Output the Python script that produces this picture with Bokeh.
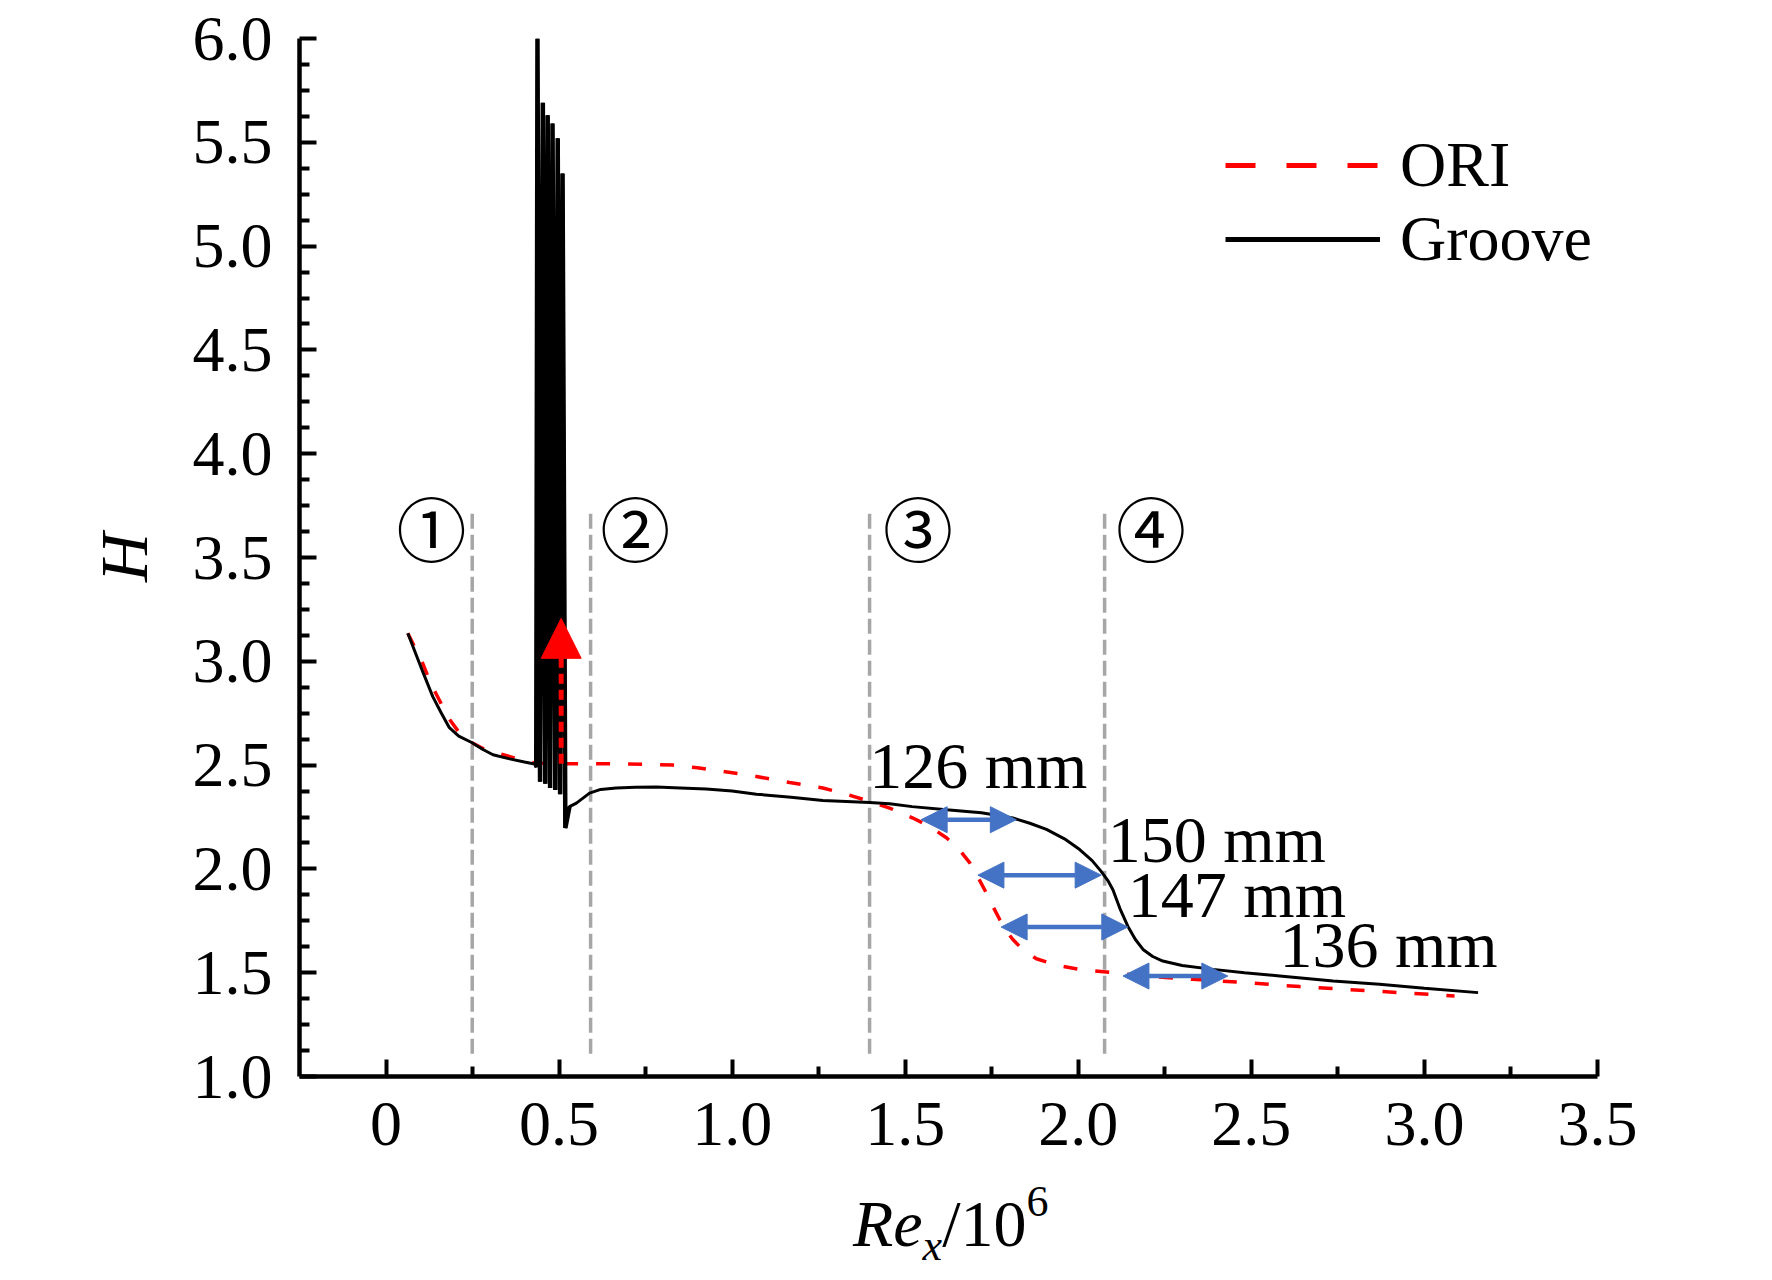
from bokeh.plotting import figure
from bokeh.models import (Range1d, FixedTicker, ColumnDataSource, Legend, LegendItem,
                          Arrow, NormalHead, Div)
from bokeh.layouts import column
from bokeh.core.properties import value
from bokeh.embed import file_html
from bokeh.resources import INLINE

SERIF = "Liberation Serif"

# ---------------- data ----------------
groove_x = [0.063, 0.085, 0.106, 0.135, 0.160, 0.183, 0.210, 0.246, 0.280, 0.309, 0.357, 0.400, 0.429, 0.434,
            0.4375, 0.445, 0.453, 0.460, 0.467, 0.474, 0.481, 0.489, 0.496, 0.503, 0.510, 0.518,
            0.530, 0.550, 0.588, 0.620, 0.665, 0.720, 0.781, 0.850, 0.925, 1.000, 1.070, 1.170,
            1.262, 1.330, 1.397, 1.455, 1.520, 1.619, 1.720, 1.811, 1.860, 1.908, 1.960, 2.004,
            2.040, 2.066, 2.085, 2.100, 2.120, 2.143, 2.165, 2.187, 2.215, 2.244, 2.300, 2.389,
            2.480, 2.582, 2.736, 2.870, 3.000, 3.155]
groove_y = [3.135, 3.04, 2.95, 2.83, 2.75, 2.68, 2.64, 2.61, 2.575, 2.55, 2.53, 2.515, 2.505, 2.49,
            6.00, 2.42, 5.69, 2.41, 5.63, 2.39, 5.59, 2.38, 5.52, 2.36, 5.35, 2.197,
            2.30, 2.317, 2.365, 2.383, 2.39, 2.393, 2.394, 2.39, 2.385, 2.375, 2.36, 2.345,
            2.33, 2.325, 2.32, 2.314, 2.30, 2.285, 2.27, 2.245, 2.22, 2.19, 2.145, 2.093,
            2.04, 1.988, 1.945, 1.90, 1.81, 1.724, 1.66, 1.612, 1.578, 1.556, 1.535, 1.516,
            1.50, 1.484, 1.46, 1.444, 1.425, 1.404]
# index range of the oscillating (spike) part of the Groove series
spike_start, spike_end = 13, 26

ori_x = [0.063, 0.085, 0.106, 0.130, 0.155, 0.179, 0.210, 0.246, 0.280, 0.318, 0.370, 0.429, 0.511,
         0.600, 0.684, 0.760, 0.829, 0.900, 0.973, 1.070, 1.166, 1.262, 1.330, 1.397, 1.455,
         1.522, 1.570, 1.619, 1.655, 1.686, 1.710, 1.734, 1.753, 1.773, 1.790, 1.811, 1.840,
         1.879, 1.940, 2.004, 2.100, 2.196, 2.330, 2.485, 2.640, 2.870, 3.087]
ori_y = [3.135, 3.06, 2.99, 2.89, 2.81, 2.73, 2.66, 2.61, 2.58, 2.56, 2.535, 2.51, 2.506,
         2.506, 2.506, 2.504, 2.50, 2.487, 2.47, 2.445, 2.416, 2.39, 2.36, 2.325, 2.293,
         2.245, 2.205, 2.15, 2.095, 2.03, 1.96, 1.885, 1.82, 1.756, 1.705, 1.66, 1.61,
         1.567, 1.535, 1.516, 1.50, 1.484, 1.468, 1.452, 1.433, 1.41, 1.388]

# region separators and their labels
zone_x = [0.249, 0.591, 1.397, 2.076]
zone_y0 = [1.11, 1.11, 1.11, 1.11]
zone_y1 = [3.72, 3.74, 3.74, 3.72]
zone_label_x = [0.131, 0.720, 1.537, 2.210]
zone_label_y = [3.65, 3.65, 3.65, 3.65]
zone_labels = ["\u2460", "\u2461", "\u2462", "\u2463"]

# distance arrows
dist_x0 = [1.546, 1.710, 1.777, 2.129]
dist_x1 = [1.821, 2.066, 2.143, 2.432]
dist_y = [2.237, 1.970, 1.720, 1.484]
dist_text = ["126 mm", "150 mm", "147 mm", "136 mm"]
dist_text_x = [1.396, 2.085, 2.143, 2.581]
dist_text_y = [2.50, 2.143, 1.877, 1.637]

# red transition marker
mark_x = [0.506]
mark_y0 = [2.506]
mark_y1 = [3.207]

x_ticks = [0, 0.5, 1.0, 1.5, 2.0, 2.5, 3.0, 3.5]
x_tick_labels = ["0", "0.5", "1.0", "1.5", "2.0", "2.5", "3.0", "3.5"]
x_minor = [0.25, 0.75, 1.25, 1.75, 2.25, 2.75, 3.25]
y_ticks = [1.0, 1.5, 2.0, 2.5, 3.0, 3.5, 4.0, 4.5, 5.0, 5.5, 6.0]
y_tick_labels = ["1.0", "1.5", "2.0", "2.5", "3.0", "3.5", "4.0", "4.5", "5.0", "5.5", "6.0"]
y_minor = [1.0 + 0.125 * i for i in range(41) if i % 4 != 0]

# ---------------- figure ----------------
FW, FH = 1298, 1038
BL, BT, BR, BB = 299, 38, 150, 100
p = figure(frame_width=FW, frame_height=FH,
           x_range=Range1d(-0.25, 3.5), y_range=Range1d(1.0, 6.0),
           output_backend="svg", toolbar_location=None,
           min_border_left=BL, min_border_top=BT, min_border_right=BR, min_border_bottom=BB)
p.outline_line_color = None
p.xgrid.visible = False
p.ygrid.visible = False
p.background_fill_color = "white"
p.border_fill_color = "white"

for ax in (p.xaxis[0], p.yaxis[0]):
    ax.axis_line_width = 4.5
    ax.axis_line_color = "black"
    ax.major_tick_line_width = 4
    ax.minor_tick_line_width = 4
    ax.major_tick_in = 17
    ax.major_tick_out = 0
    ax.minor_tick_in = 10
    ax.minor_tick_out = 0
    ax.major_label_text_font = SERIF
    ax.major_label_text_font_size = "64px"
    ax.major_label_text_color = "black"

p.xaxis.ticker = FixedTicker(ticks=x_ticks, minor_ticks=x_minor)
p.xaxis.major_label_overrides = dict(zip(x_ticks, x_tick_labels))
p.xaxis.major_label_standoff = 26
p.yaxis.ticker = FixedTicker(ticks=y_ticks, minor_ticks=y_minor)
p.yaxis.major_label_overrides = dict(zip(y_ticks, y_tick_labels))
p.yaxis.major_label_standoff = 27

p.yaxis.axis_label = "H"
p.yaxis.axis_label_text_font = SERIF
p.yaxis.axis_label_text_font_style = "italic"
p.yaxis.axis_label_text_font_size = "68px"
p.yaxis.axis_label_text_color = "black"
p.yaxis.axis_label_standoff = 28

# separators
p.segment(x0=zone_x, y0=zone_y0, x1=zone_x, y1=zone_y1,
          line_color="#A6A6A6", line_width=3.5, line_dash="15 6")

# curves
p.line(ori_x, ori_y, line_color="#FF0000", line_width=3.5, line_dash="14 18")
p.line(groove_x, groove_y, line_color="black", line_width=3)
# the dense oscillation is drawn with a heavier stroke, as in the original figure
p.line(groove_x[spike_start:spike_end + 1], groove_y[spike_start:spike_end + 1],
       line_color="black", line_width=4.5)

# red marker arrow
p.add_layout(Arrow(end=NormalHead(size=40, fill_color="#FF0000", line_color="#FF0000", line_width=1),
                   x_start=mark_x[0], y_start=mark_y0[0], x_end=mark_x[0], y_end=mark_y1[0],
                   line_color="#FF0000", line_width=5, line_dash="10 6"))

# blue distance arrows
dsrc = ColumnDataSource(dict(x0=dist_x0, x1=dist_x1, y=dist_y))
p.add_layout(Arrow(start=NormalHead(size=26, fill_color="#4472C4", line_color="#4472C4", line_width=1),
                   end=NormalHead(size=26, fill_color="#4472C4", line_color="#4472C4", line_width=1),
                   x_start="x0", y_start="y", x_end="x1", y_end="y", source=dsrc,
                   line_color="#4472C4", line_width=4.5))

# texts in plot
p.text(x=dist_text_x, y=dist_text_y, text=dist_text, text_font=value(SERIF),
       text_font_size="66px", text_baseline="alphabetic", text_align="left", text_color="black")
p.text(x=zone_label_x, y=zone_label_y, text=zone_labels, text_font=value("Noto Sans CJK JP"),
       text_font_size="70px", text_baseline="middle", text_align="center", text_color="black")

# legend (sample renderers carry the legend's line styles; their points lie outside the view)
leg_ori = p.line(x=[-1.0, -0.9], y=[0.0, 0.0], line_color="#FF0000", line_width=5, line_dash="30 31")
leg_groove = p.line(x=[-1.0, -0.9], y=[0.0, 0.0], line_color="black", line_width=5)
legend = Legend(items=[LegendItem(label="ORI", renderers=[leg_ori]),
                       LegendItem(label="Groove", renderers=[leg_groove])],
                location=(926, 800), glyph_width=155, glyph_height=40,
                label_text_font=SERIF, label_text_font_size="64px", label_text_color="black",
                label_standoff=20, spacing=-6, padding=0, margin=0, border_line_color=None,
                background_fill_alpha=0)
p.add_layout(legend)

# x axis title: Re_x / 10^6 (mixed italic / sub / superscript)
xtitle = ('<span style="font-family:\'Liberation Serif\'; font-size:66px; line-height:66px; '
          'color:black; white-space:nowrap;">'
          '<i>Re<span style="font-size:44px; vertical-align:-14px; line-height:0;">x</span></i>'
          '/10<span style="font-size:44px; vertical-align:30px; line-height:0;">6</span></span>')
div = Div(text=xtitle, width=400, height=80, margin=(15, 0, 0, BL + 554))

open("out.html", "w").write(file_html(column(p, div), INLINE))
